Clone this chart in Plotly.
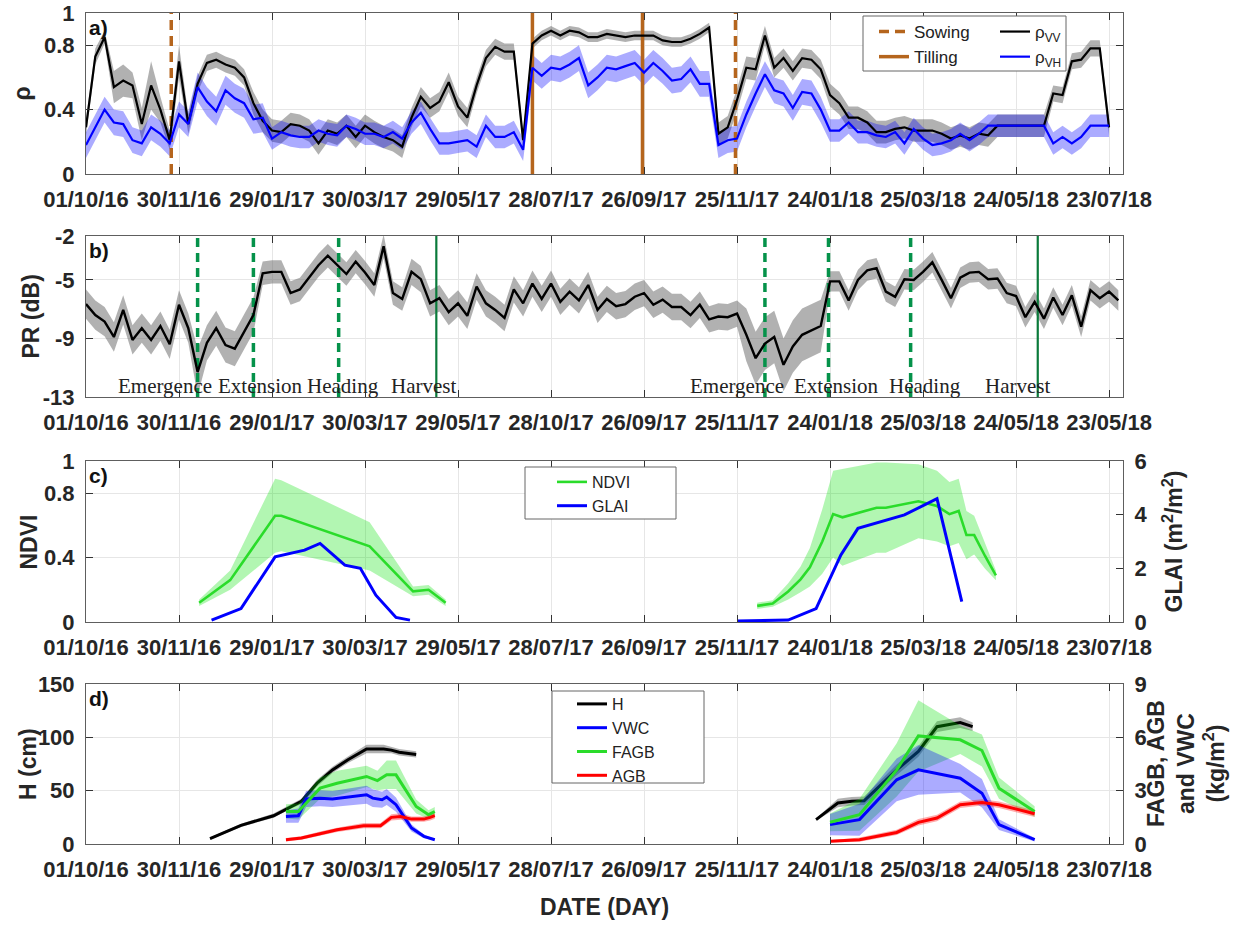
import pandas as pd
import plotly.graph_objects as go

W, H = 1249, 925

# ------------------------------------------------------------------ data
date_start = "2016-10-01"
date_end = "2018-08-01"
tick_dates = [d.strftime("%Y-%m-%d") for d in pd.date_range(date_start, periods=12, freq="60D")]
tick_text = ["01/10/16", "30/11/16", "29/01/17", "30/03/17", "29/05/17", "28/07/17",
             "26/09/17", "25/11/17", "24/01/18", "25/03/18", "24/05/18", "23/07/18"]
tick_text_b = ["01/10/16", "30/11/16", "29/01/17", "30/03/17", "29/05/17", "28/10/17",
               "26/09/17", "25/11/17", "24/01/18", "25/03/18", "24/05/18", "23/05/18"]

# panel a : correlation rho (Sentinel-1, 6-day revisit)
rho_vv = [0.29, 0.73, 0.85, 0.54, 0.58, 0.55, 0.31, 0.55, 0.40, 0.21,
          0.70, 0.31, 0.56, 0.69, 0.71, 0.68, 0.66, 0.60, 0.44, 0.33,
          0.27, 0.26, 0.31, 0.30, 0.27, 0.19, 0.27, 0.25, 0.30, 0.23,
          0.30, 0.26, 0.23, 0.21, 0.17, 0.35, 0.48, 0.41, 0.45, 0.57,
          0.42, 0.35, 0.55, 0.72, 0.79, 0.76, 0.76, 0.21, 0.81, 0.86,
          0.89, 0.86, 0.89, 0.88, 0.85, 0.85, 0.87, 0.86, 0.85, 0.86,
          0.86, 0.86, 0.83, 0.82, 0.82, 0.84, 0.87, 0.91, 0.25, 0.29,
          0.46, 0.66, 0.65, 0.86, 0.66, 0.72, 0.64, 0.72, 0.71, 0.65,
          0.49, 0.44, 0.35, 0.35, 0.32, 0.26, 0.26, 0.28, 0.29, 0.27,
          0.27, 0.27, 0.25, 0.22, 0.24, 0.22, 0.25, 0.24, 0.30, 0.30,
          0.30, 0.30, 0.30, 0.30, 0.50, 0.49, 0.70, 0.71, 0.78, 0.78,
          0.29]
rho_vv_sd = [0.05, 0.05, 0.04, 0.10, 0.10, 0.08, 0.10, 0.15, 0.08, 0.06,
             0.10, 0.06, 0.05, 0.05, 0.05, 0.05, 0.05, 0.05, 0.07, 0.07,
             0.07, 0.07, 0.07, 0.07, 0.07, 0.07, 0.07, 0.07, 0.07, 0.07,
             0.07, 0.07, 0.07, 0.07, 0.07, 0.06, 0.06, 0.06, 0.06, 0.06,
             0.06, 0.06, 0.05, 0.05, 0.05, 0.05, 0.05, 0.05, 0.03, 0.03,
             0.03, 0.03, 0.03, 0.03, 0.03, 0.03, 0.03, 0.03, 0.03, 0.03,
             0.03, 0.03, 0.03, 0.03, 0.03, 0.03, 0.03, 0.03, 0.07, 0.07,
             0.07, 0.07, 0.07, 0.06, 0.06, 0.06, 0.06, 0.06, 0.06, 0.06,
             0.07, 0.07, 0.07, 0.07, 0.07, 0.07, 0.07, 0.07, 0.07, 0.07,
             0.07, 0.07, 0.07, 0.07, 0.07, 0.07, 0.07, 0.07, 0.07, 0.07,
             0.07, 0.07, 0.07, 0.07, 0.05, 0.05, 0.05, 0.05, 0.05, 0.05,
             0.05]
rho_vh = [0.18, 0.29, 0.40, 0.32, 0.31, 0.21, 0.19, 0.29, 0.25, 0.19,
          0.37, 0.31, 0.54, 0.45, 0.39, 0.52, 0.47, 0.44, 0.34, 0.35,
          0.22, 0.26, 0.24, 0.23, 0.23, 0.27, 0.25, 0.24, 0.30, 0.28,
          0.25, 0.25, 0.23, 0.26, 0.22, 0.32, 0.38, 0.28, 0.19, 0.19,
          0.20, 0.21, 0.17, 0.30, 0.23, 0.23, 0.26, 0.15, 0.66, 0.61,
          0.66, 0.65, 0.68, 0.72, 0.55, 0.60, 0.66, 0.65, 0.67, 0.69,
          0.63, 0.69, 0.64, 0.58, 0.59, 0.65, 0.56, 0.56, 0.18, 0.21,
          0.22, 0.37, 0.50, 0.62, 0.52, 0.50, 0.41, 0.51, 0.50, 0.40,
          0.27, 0.27, 0.32, 0.26, 0.26, 0.24, 0.23, 0.26, 0.19, 0.28,
          0.22, 0.18, 0.19, 0.21, 0.25, 0.21, 0.25, 0.30, 0.30, 0.30,
          0.30, 0.30, 0.30, 0.30, 0.19, 0.23, 0.19, 0.23, 0.30, 0.30,
          0.30]
rho_vh_sd = [0.08, 0.08, 0.08, 0.08, 0.08, 0.08, 0.08, 0.08, 0.08, 0.08,
             0.08, 0.08, 0.09, 0.09, 0.09, 0.09, 0.09, 0.09, 0.09, 0.09,
             0.07, 0.07, 0.07, 0.07, 0.07, 0.07, 0.07, 0.07, 0.07, 0.07,
             0.07, 0.07, 0.07, 0.07, 0.07, 0.07, 0.07, 0.07, 0.07, 0.07,
             0.07, 0.07, 0.07, 0.07, 0.07, 0.07, 0.07, 0.07, 0.08, 0.08,
             0.08, 0.08, 0.08, 0.08, 0.08, 0.08, 0.08, 0.08, 0.08, 0.08,
             0.08, 0.08, 0.08, 0.08, 0.08, 0.08, 0.08, 0.08, 0.08, 0.08,
             0.08, 0.08, 0.08, 0.08, 0.08, 0.08, 0.08, 0.08, 0.08, 0.08,
             0.07, 0.07, 0.07, 0.07, 0.07, 0.07, 0.07, 0.07, 0.07, 0.07,
             0.07, 0.07, 0.07, 0.07, 0.07, 0.07, 0.07, 0.07, 0.07, 0.07,
             0.07, 0.07, 0.07, 0.07, 0.07, 0.07, 0.07, 0.07, 0.07, 0.07,
             0.07]
sowing_dates = ["2016-11-25", "2017-11-24"]
tilling_dates = ["2017-07-16", "2017-09-25"]

# panel b : polarisation ratio (dB)
pr_db = [-6.65, -7.4, -7.85, -8.9, -7.05, -9.1, -8.3, -9.1, -8.15, -9.4,
         -6.7, -8.3, -11.3, -9.3, -8.3, -9.45, -9.7, -8.55, -7.4, -4.55,
         -4.45, -4.45, -5.9, -5.65, -4.8, -4.0, -3.35, -4.0, -4.6, -3.75,
         -4.5, -5.35, -2.7, -5.9, -6.3, -4.45, -4.95, -6.6, -6.25, -7.2,
         -6.6, -7.45, -5.45, -6.6, -7.05, -7.6, -5.65, -6.6, -5.25, -6.3,
         -5.25, -6.5, -5.8, -6.4, -5.35, -7.05, -6.3, -6.8, -6.65, -6.15,
         -5.9, -6.7, -6.35, -6.85, -6.85, -7.4, -6.7, -7.7, -7.5, -7.55,
         -7.3, -8.75, -10.35, -9.35, -8.9, -10.8, -9.55, -8.75, -8.45, -8.15,
         -5.1, -5.1, -6.4, -5.0, -4.35, -4.2, -5.8, -6.15, -4.95, -5.0,
         -4.45, -3.8, -5.0, -6.25, -4.85, -4.5, -4.45, -4.95, -4.9, -5.9,
         -6.1, -7.55, -6.5, -7.65, -6.2, -7.4, -6.05, -8.2, -5.7, -6.25,
         -5.8, -6.4]
pr_db_sd = [1.0, 1.0, 1.0, 1.0, 1.0, 1.0, 1.0, 1.0, 1.0, 1.0,
            1.0, 1.0, 1.6, 1.2, 1.2, 1.2, 1.2, 1.2, 1.2, 0.8,
            0.8, 0.8, 0.8, 0.8, 0.8, 0.8, 0.8, 0.8, 0.8, 0.8,
            0.8, 0.8, 0.8, 0.8, 0.8, 0.9, 0.9, 0.9, 0.9, 0.9,
            0.9, 0.9, 0.9, 0.9, 0.9, 0.9, 0.9, 0.9, 0.9, 0.9,
            0.9, 0.9, 0.9, 0.9, 0.9, 0.9, 0.9, 0.9, 0.9, 0.9,
            0.9, 0.9, 0.9, 0.9, 0.9, 0.9, 0.9, 0.9, 0.9, 0.9,
            0.9, 1.8, 1.8, 1.8, 1.8, 1.8, 1.8, 1.8, 1.8, 1.8,
            0.7, 0.7, 0.7, 0.7, 0.7, 0.7, 0.7, 0.7, 0.7, 0.7,
            0.7, 0.7, 0.7, 0.7, 0.7, 0.7, 0.7, 0.7, 0.7, 0.7,
            0.7, 0.7, 0.7, 0.7, 0.7, 0.7, 0.7, 0.7, 0.7, 0.7,
            0.7, 0.7]
stage_dashed_dates = ["2016-12-12", "2017-01-17", "2017-03-13",
                      "2017-12-13", "2018-01-23", "2018-03-17"]
harvest_dates = ["2017-05-15", "2018-06-07"]
stage_labels = ["Emergence", "Extension", "Heading", "Harvest",
                "Emergence", "Extension", "Heading", "Harvest"]
stage_label_dates = ["2016-11-21", "2017-01-21", "2017-03-16", "2017-05-07",
                     "2017-11-25", "2018-01-28", "2018-03-26", "2018-05-25"]

# panel c : NDVI and GLAI
ndvi_dates_1 = ["2016-12-13", "2017-01-02", "2017-01-31", "2017-02-04",
                "2017-04-02", "2017-04-30", "2017-05-10", "2017-05-21"]
ndvi_1 = [0.12, 0.26, 0.66, 0.66, 0.47, 0.19, 0.20, 0.12]
ndvi_sd_1 = [0.02, 0.06, 0.23, 0.22, 0.15, 0.03, 0.03, 0.02]
ndvi_dates_2 = ["2017-12-08", "2017-12-18", "2017-12-28", "2018-01-05", "2018-01-11",
                "2018-01-19", "2018-01-26", "2018-02-01", "2018-02-23", "2018-03-01",
                "2018-03-22", "2018-04-03", "2018-04-11", "2018-04-17", "2018-04-22",
                "2018-04-27", "2018-05-04", "2018-05-11"]
ndvi_2 = [0.10, 0.115, 0.19, 0.265, 0.34, 0.50, 0.67, 0.65, 0.71, 0.71,
          0.75, 0.72, 0.67, 0.69, 0.54, 0.54, 0.41, 0.29]
ndvi_sd_2 = [0.02, 0.02, 0.05, 0.08, 0.12, 0.20, 0.27, 0.30, 0.28, 0.28,
             0.23, 0.22, 0.20, 0.20, 0.15, 0.12, 0.08, 0.03]
glai_dates_1 = ["2016-12-21", "2017-01-02", "2017-01-09", "2017-01-31", "2017-02-11",
                "2017-02-19", "2017-03-01", "2017-03-17", "2017-03-27", "2017-04-06",
                "2017-04-19", "2017-04-28"]
glai_1 = [0.07, 0.35, 0.50, 2.43, 2.58, 2.68, 2.93, 2.12, 2.00, 1.00, 0.17, 0.07]
glai_dates_2 = ["2017-11-25", "2017-12-28", "2018-01-15", "2018-01-31",
                "2018-02-11", "2018-03-13", "2018-04-03", "2018-04-19"]
glai_2 = [0.04, 0.07, 0.50, 2.50, 3.49, 3.99, 4.60, 0.76]

# panel d : height and biomass
h_dates_1 = ["2016-12-20", "2017-01-09", "2017-01-30", "2017-02-10", "2017-02-17",
             "2017-02-27", "2017-03-09", "2017-03-19", "2017-03-31", "2017-04-11",
             "2017-04-16", "2017-04-21", "2017-05-02"]
h_1 = [5, 17.5, 26.5, 35, 40, 57, 69.5, 79, 89, 89, 88, 86, 84]
h_sd_1 = [1, 1.5, 2, 2, 2.5, 3, 3, 3, 4, 4, 3, 3, 3]
h_dates_2 = ["2018-01-15", "2018-01-29", "2018-02-07", "2018-02-15", "2018-03-08",
             "2018-03-22", "2018-04-03", "2018-04-18", "2018-04-26"]
h_2 = [22.8, 38.4, 40, 40.5, 69.5, 86.7, 110, 113.8, 110]
h_sd_2 = [1, 4, 4, 4, 5, 5, 5, 5, 4]

vwc_dates_1 = ["2017-02-07", "2017-02-15", "2017-02-20", "2017-03-01", "2017-03-09",
               "2017-03-31", "2017-04-04", "2017-04-10", "2017-04-13", "2017-04-19",
               "2017-04-29", "2017-05-07", "2017-05-14"]
vwc_1 = [1.55, 1.59, 2.53, 2.58, 2.53, 2.77, 2.58, 2.49, 2.64, 2.21, 0.90, 0.43, 0.24]
vwc_sd_1 = [0.35, 0.40, 0.45, 0.45, 0.45, 0.50, 0.50, 0.45, 0.45, 0.40, 0.20, 0.10, 0.05]
fagb_dates_1 = ["2017-02-07", "2017-02-15", "2017-03-01", "2017-03-12", "2017-03-31",
                "2017-04-07", "2017-04-13", "2017-04-19", "2017-05-02", "2017-05-10",
                "2017-05-14"]
fagb_1 = [1.83, 1.83, 3.14, 3.42, 3.80, 3.57, 3.89, 3.89, 2.11, 1.65, 1.83]
fagb_sd_1 = [0.40, 0.45, 0.60, 0.70, 0.60, 0.55, 0.80, 0.80, 0.40, 0.25, 0.25]
agb_dates_1 = ["2017-02-07", "2017-02-17", "2017-03-01", "2017-03-12", "2017-03-29",
               "2017-04-09", "2017-04-16", "2017-04-22", "2017-04-29", "2017-05-07",
               "2017-05-11", "2017-05-14"]
agb_1 = [0.24, 0.34, 0.58, 0.80, 1.03, 1.03, 1.50, 1.55, 1.40, 1.40, 1.50, 1.60]
agb_sd_1 = [0.10, 0.10, 0.12, 0.12, 0.15, 0.15, 0.18, 0.18, 0.15, 0.15, 0.18, 0.18]

bio_dates_2 = ["2018-01-24", "2018-02-12", "2018-03-08", "2018-03-22",
               "2018-04-18", "2018-05-02", "2018-05-13", "2018-06-05"]
vwc_2 = [1.09, 1.37, 3.61, 4.17, 3.70, 2.86, 1.09, 0.24]
vwc_sd_2 = [0.6, 0.9, 1.2, 1.4, 0.8, 0.8, 0.3, 0.1]
fagb_2 = [1.22, 1.65, 4.17, 6.08, 5.86, 5.26, 3.14, 1.83]
fagb_sd_2 = [0.5, 0.9, 1.5, 2.0, 0.8, 0.9, 0.6, 0.3]
agb_dates_2 = ["2018-01-24", "2018-02-12", "2018-03-08", "2018-03-22", "2018-04-03",
               "2018-04-18", "2018-05-02", "2018-05-13", "2018-06-05"]
agb_2 = [0.15, 0.24, 0.65, 1.22, 1.46, 2.21, 2.34, 2.21, 1.70]
agb_sd_2 = [0.06, 0.12, 0.15, 0.18, 0.18, 0.18, 0.18, 0.18, 0.18]

s1_dates = [d.strftime("%Y-%m-%d") for d in pd.date_range(date_start, periods=len(rho_vv), freq="6D")]
pr_dates = [d.strftime("%Y-%m-%d") for d in pd.date_range(date_start, periods=len(pr_db), freq="6D")]

# ------------------------------------------------------------------ style
def px(x):
    return x / W


def py(y):
    return 1 - y / H


XDOM = [px(86), px(1123)]
DOM_A = [py(174), py(13)]
DOM_B = [py(397), py(236)]
DOM_C = [py(622), py(461)]
DOM_D = [py(844), py(684)]

SANS = "Liberation Sans, Arial, sans-serif"
AXIS_LINE = "#5e5e5e"
GRID = "#e6e6e6"
TICK_FONT = dict(family=SANS, size=22, color="#262626", weight="bold")
BROWN = "#b5651d"
GREEN_STAGE = "#05924a"
GREEN_HARV = "#0a7a3a"
NDVI_GREEN = "#2adc2a"

GRAY_BAND = "rgba(100,100,100,0.5)"
BLUE_BAND = "rgba(0,0,255,0.33)"
GREEN_BAND = "rgba(0,225,0,0.30)"
RED_BAND = "rgba(255,0,0,0.33)"

fig = go.Figure()


def band(x, mean, sd, color, xa, ya):
    up = [m + s for m, s in zip(mean, sd)]
    lo = [m - s for m, s in zip(mean, sd)]
    fig.add_trace(go.Scatter(x=list(x) + list(x)[::-1], y=up + lo[::-1], fill="toself",
                             fillcolor=color, line=dict(width=0), mode="lines",
                             hoverinfo="skip", showlegend=False, xaxis=xa, yaxis=ya))


def line(x, y, color, width, xa, ya, name=None, legend=None, dash=None, show=False):
    fig.add_trace(go.Scatter(x=x, y=y, mode="lines", name=name,
                             line=dict(color=color, width=width, dash=dash),
                             showlegend=show, legend=legend, xaxis=xa, yaxis=ya))


def vlines(dates, y0, y1):
    xs, ys = [], []
    for d in dates:
        xs += [d, d, None]
        ys += [y0, y1, None]
    return xs, ys


# ---- panel a
band(s1_dates, rho_vv, rho_vv_sd, GRAY_BAND, "x", "y")
band(s1_dates, rho_vh, rho_vh_sd, BLUE_BAND, "x", "y")
xs, ys = vlines(sowing_dates, 0, 1)
line(xs, ys, BROWN, 3.5, "x", "y", name="Sowing", legend="legend", dash="10px,6px", show=True)
xs, ys = vlines(tilling_dates, 0, 1)
line(xs, ys, BROWN, 3.5, "x", "y", name="Tilling", legend="legend", show=True)
line(s1_dates, rho_vv, "#000000", 2.2, "x", "y", name="ρ<sub>VV</sub>", legend="legend2", show=True)
line(s1_dates, rho_vh, "#0000ff", 2.2, "x", "y", name="ρ<sub>VH</sub>", legend="legend2", show=True)

# ---- panel b
band(pr_dates, pr_db, pr_db_sd, GRAY_BAND, "x2", "y2")
xs, ys = vlines(stage_dashed_dates, -13, -2)
line(xs, ys, GREEN_STAGE, 3.5, "x2", "y2", dash="9px,6px")
xs, ys = vlines(harvest_dates, -13, -2)
line(xs, ys, GREEN_HARV, 2.2, "x2", "y2")
line(pr_dates, pr_db, "#000000", 2.4, "x2", "y2")

# ---- panel c
band(ndvi_dates_1, ndvi_1, ndvi_sd_1, GREEN_BAND, "x3", "y3")
band(ndvi_dates_2, ndvi_2, ndvi_sd_2, GREEN_BAND, "x3", "y3")
line(ndvi_dates_1, ndvi_1, NDVI_GREEN, 2.6, "x3", "y3", name="NDVI", legend="legend3", show=True)
line(ndvi_dates_2, ndvi_2, NDVI_GREEN, 2.6, "x3", "y3")
line(glai_dates_1, glai_1, "#0000ff", 3, "x3", "y4", name="GLAI", legend="legend3", show=True)
line(glai_dates_2, glai_2, "#0000ff", 3, "x3", "y4")

# ---- panel d
band(fagb_dates_1, fagb_1, fagb_sd_1, GREEN_BAND, "x4", "y6")
band(bio_dates_2, fagb_2, fagb_sd_2, GREEN_BAND, "x4", "y6")
band(vwc_dates_1, vwc_1, vwc_sd_1, BLUE_BAND, "x4", "y6")
band(bio_dates_2, vwc_2, vwc_sd_2, BLUE_BAND, "x4", "y6")
band(agb_dates_1, agb_1, agb_sd_1, RED_BAND, "x4", "y6")
band(agb_dates_2, agb_2, agb_sd_2, RED_BAND, "x4", "y6")
band(h_dates_1, h_1, h_sd_1, GRAY_BAND, "x4", "y5")
band(h_dates_2, h_2, h_sd_2, GRAY_BAND, "x4", "y5")
line(h_dates_1, h_1, "#000000", 3, "x4", "y5", name="H", legend="legend4", show=True)
line(h_dates_2, h_2, "#000000", 3, "x4", "y5")
line(vwc_dates_1, vwc_1, "#0000ff", 3, "x4", "y6", name="VWC", legend="legend4", show=True)
line(bio_dates_2, vwc_2, "#0000ff", 3, "x4", "y6")
line(fagb_dates_1, fagb_1, NDVI_GREEN, 3, "x4", "y6", name="FAGB", legend="legend4", show=True)
line(bio_dates_2, fagb_2, NDVI_GREEN, 3, "x4", "y6")
line(agb_dates_1, agb_1, "#ff0000", 3, "x4", "y6", name="AGB", legend="legend4", show=True)
line(agb_dates_2, agb_2, "#ff0000", 3, "x4", "y6")


# ------------------------------------------------------------------ axes
def x_axis(anchor, text):
    return dict(domain=XDOM, anchor=anchor, type="date", range=[date_start, date_end],
                tickmode="array", tickvals=tick_dates, ticktext=text, tickangle=0,
                ticks="inside", ticklen=7, tickwidth=1, tickcolor="#333",
                showline=True, linecolor=AXIS_LINE, linewidth=1, mirror="ticks",
                showgrid=True, gridcolor=GRID, gridwidth=1, zeroline=False,
                tickfont=TICK_FONT, ticklabelstandoff=6, automargin=False)


def y_axis(dom, anchor, rng, vals, mirror="ticks", side="left", overlaying=None, grid=True):
    d = dict(domain=dom, anchor=anchor, range=rng, tickmode="array", tickvals=vals,
             ticktext=[("%g" % v) for v in vals], side=side,
             ticks="inside", ticklen=7, tickwidth=1, tickcolor="#333",
             showline=True, linecolor=AXIS_LINE, linewidth=1, mirror=mirror,
             showgrid=grid, gridcolor=GRID, gridwidth=1, zeroline=False,
             tickfont=TICK_FONT, ticklabelstandoff=6, automargin=False)
    if overlaying:
        d["overlaying"] = overlaying
    return d


fig.update_layout(
    xaxis=x_axis("y", tick_text),
    xaxis2=x_axis("y2", tick_text_b),
    xaxis3=x_axis("y3", tick_text),
    xaxis4=x_axis("y5", tick_text),
    yaxis=y_axis(DOM_A, "x", [0, 1], [0, 0.4, 0.8, 1]),
    yaxis2=y_axis(DOM_B, "x2", [-13, -2], [-13, -9, -5, -2]),
    yaxis3=y_axis(DOM_C, "x3", [0, 1], [0, 0.4, 0.8, 1], mirror=True),
    yaxis4=y_axis(DOM_C, "x3", [0, 6], [0, 2, 4, 6], mirror=False, side="right",
                  overlaying="y3", grid=False),
    yaxis5=y_axis(DOM_D, "x4", [0, 150], [0, 50, 100, 150], mirror=True),
    yaxis6=y_axis(DOM_D, "x4", [0, 9], [0, 3, 6, 9], mirror=False, side="right",
                  overlaying="y5", grid=False),
)

LEG_FONT = dict(family=SANS, size=17, color="#222222")
LEG_FONT_S = dict(family=SANS, size=16, color="#222222")
leg_common = dict(bgcolor="rgba(0,0,0,0)", borderwidth=0,
                  xanchor="left", yanchor="top", orientation="v", tracegroupgap=0)
fig.update_layout(
    legend=dict(x=px(874), y=py(14), font=LEG_FONT, **leg_common),
    legend2=dict(x=px(995), y=py(14), font=LEG_FONT, **leg_common),
    legend3=dict(x=px(552), y=py(465), font=LEG_FONT_S, **leg_common),
    legend4=dict(x=px(572), y=py(687), font=LEG_FONT_S, **leg_common),
)

# legend frames
shapes = []
for (x0, y0, x1, y1) in [(863, 16, 1066, 71), (525, 467, 676, 519), (552, 691, 704, 783)]:
    shapes.append(dict(type="rect", xref="paper", yref="paper", x0=px(x0), x1=px(x1),
                       y0=py(y1), y1=py(y0), line=dict(color="#666666", width=1),
                       fillcolor="white", layer="above"))

# annotations
ann = []
TITLE_FONT = dict(family=SANS, size=23, color="#262626", weight="bold")
for txt, dom in [("a)", DOM_A), ("b)", DOM_B), ("c)", DOM_C), ("d)", DOM_D)]:
    ann.append(dict(text=txt, xref="paper", yref="paper", x=XDOM[0] + px(1), y=dom[1] - 0.001,
                    xanchor="left", yanchor="top", showarrow=False,
                    font=dict(family=SANS, size=21, color="#111", weight="bold")))
for txt, x, dom in [("ρ", 22, DOM_A), ("PR (dB)", 30, DOM_B), ("NDVI", 28, DOM_C),
                    ("H (cm)", 28, DOM_D)]:
    ann.append(dict(text=txt, xref="paper", yref="paper", x=px(x), y=(dom[0] + dom[1]) / 2,
                    xanchor="center", yanchor="middle", textangle=-90, showarrow=False,
                    font=TITLE_FONT))
ann.append(dict(text="GLAI (m<sup>2</sup>/m<sup>2</sup>)", xref="paper", yref="paper",
                x=px(1172), y=(DOM_C[0] + DOM_C[1]) / 2, textangle=-90, showarrow=False,
                xanchor="center", yanchor="middle", font=TITLE_FONT))
ann.append(dict(text="FAGB, AGB<br>and VWC<br>(kg/m<sup>2</sup>)", xref="paper", yref="paper",
                x=px(1186), y=(DOM_D[0] + DOM_D[1]) / 2, textangle=-90, showarrow=False,
                xanchor="center", yanchor="middle", font=TITLE_FONT))
ann.append(dict(text="DATE (DAY)", xref="paper", yref="paper", x=px(604), y=py(907),
                xanchor="center", yanchor="middle", showarrow=False, font=TITLE_FONT))
for lab, d in zip(stage_labels, stage_label_dates):
    ann.append(dict(text=lab, xref="x2", yref="y2", x=d, y=-12.25, showarrow=False,
                    xanchor="center", yanchor="middle",
                    font=dict(family="Liberation Serif, Times New Roman, serif", size=21,
                              color="#222")))

fig.update_layout(
    width=W, height=H, margin=dict(l=0, r=0, t=0, b=0),
    paper_bgcolor="white", plot_bgcolor="white",
    shapes=shapes, annotations=ann, hovermode=False,
)

fig.write_html("out.html", config={"displayModeBar": False},
               post_script="document.body.style.margin='0';")
